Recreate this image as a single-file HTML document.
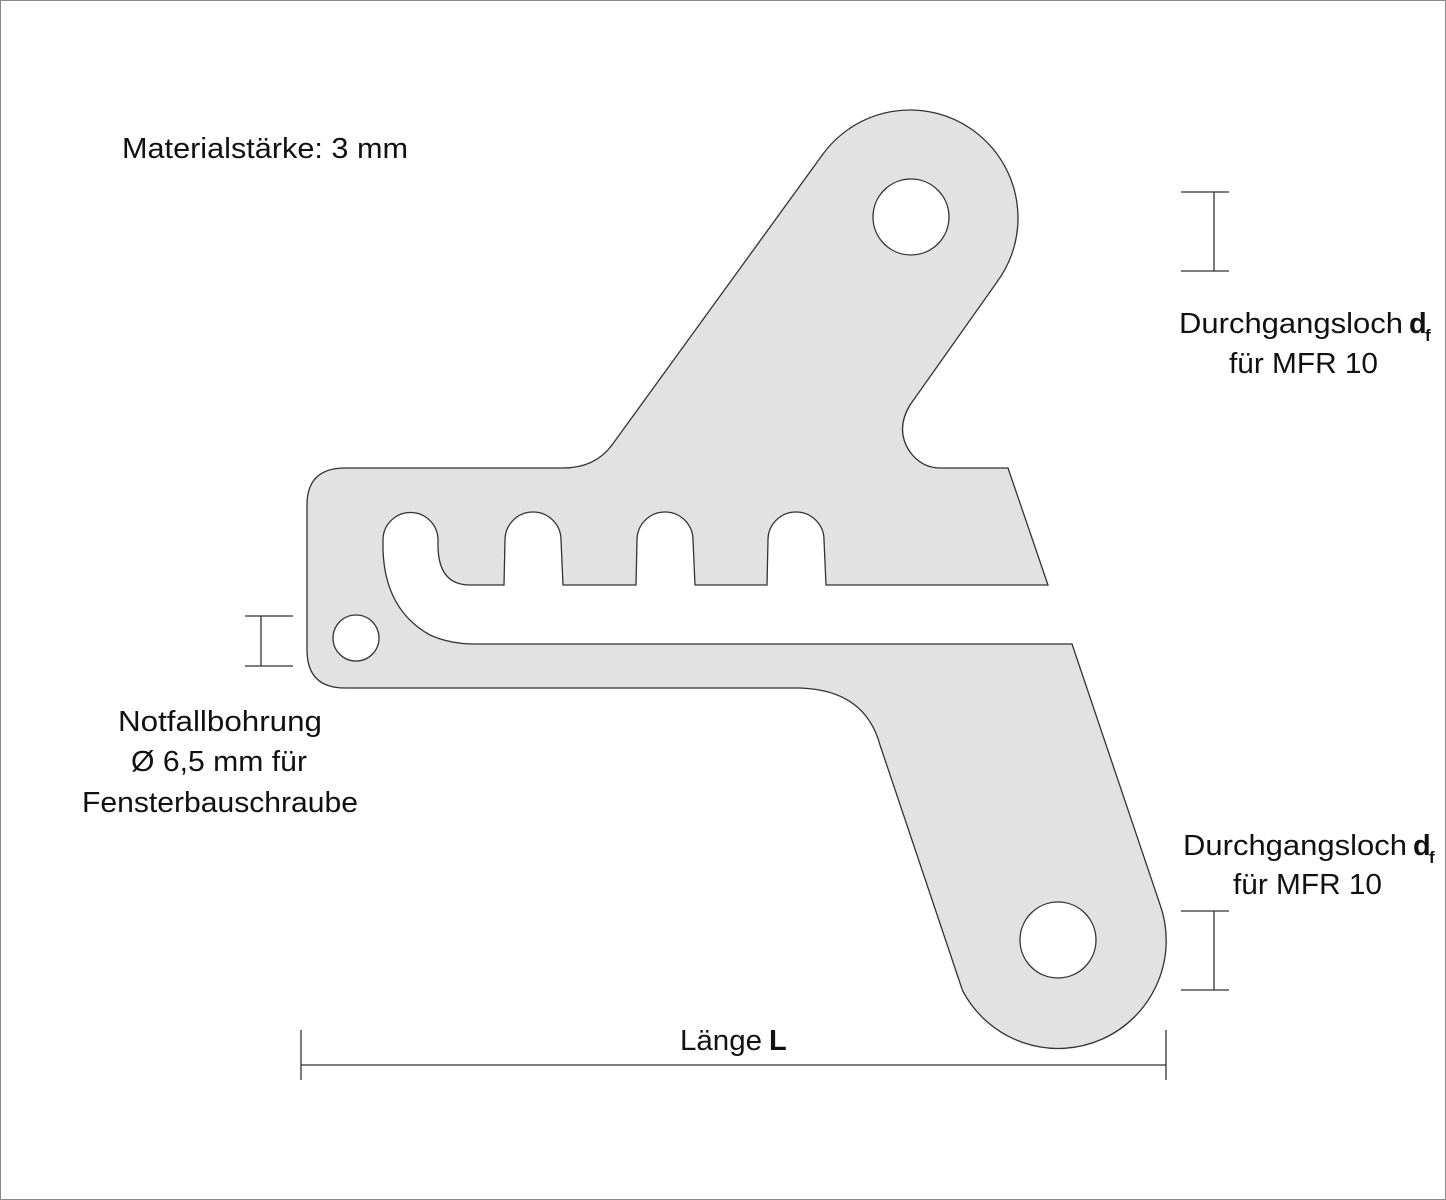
<!DOCTYPE html>
<html><head><meta charset="utf-8"><style>html,body{margin:0;padding:0;background:#fff}svg{display:block}</style></head>
<body>
<svg width="1446" height="1200" viewBox="0 0 1446 1200" xmlns="http://www.w3.org/2000/svg">
<rect x="0.5" y="0.5" width="1445" height="1199" fill="#fff" stroke="#888" stroke-width="1"/>
<path fill="#e2e2e2" stroke="#333" stroke-width="1.3" fill-rule="evenodd" d="M345,468 L563,468 Q595,468 612,445 L823,154 A108,108 0 1 1 997,282 L910,405 Q895,430 910,452 Q922,468 940,468 L1008,468 L1048,585 L826,585 L824,540 A28,28 0 0 0 768,540 L767,585 L695,585 L693,540 A28,28 0 0 0 637,540 L636,585 L563,585 L561,540 A28,28 0 0 0 505,540 L504,585 L470,585 Q438,585 438,545 L438,540 A27.5,27.5 0 0 0 383,540 L383,550 Q385,610 430,635 Q450,644 475,644 L1072,644 L1159.5,903 A108,108 0 0 1 962.6,990.7 L880,745 Q865,690 800,688 L345,688 Q307,688 307,650 L307,505 Q307,468 345,468 Z
M949,217 A38,38 0 1 0 873,217 A38,38 0 1 0 949,217 Z
M1096,940 A38,38 0 1 0 1020,940 A38,38 0 1 0 1096,940 Z
M379,638 A23,23 0 1 0 333,638 A23,23 0 1 0 379,638 Z"/>
<g stroke="#333" stroke-width="1.3" fill="none">
<line x1="1214" y1="192" x2="1214" y2="271"/><line x1="1181" y1="192" x2="1229" y2="192"/><line x1="1181" y1="271" x2="1229" y2="271"/>
<line x1="1214" y1="911" x2="1214" y2="990"/><line x1="1181" y1="911" x2="1229" y2="911"/><line x1="1181" y1="990" x2="1229" y2="990"/>
<line x1="261" y1="616" x2="261" y2="666"/><line x1="245" y1="616" x2="293" y2="616"/><line x1="245" y1="666" x2="293" y2="666"/>
<line x1="301" y1="1065" x2="1166" y2="1065"/><line x1="301" y1="1030" x2="301" y2="1080"/><line x1="1166" y1="1030" x2="1166" y2="1080"/>
</g>
<g font-family="Liberation Sans Narrow, Liberation Sans, sans-serif" font-size="29" fill="#111">
<text x="122" y="158" textLength="286" lengthAdjust="spacingAndGlyphs">Materialstärke: 3 mm</text>
<text x="1179" y="333" textLength="224" lengthAdjust="spacingAndGlyphs">Durchgangsloch</text>
<text x="1409" y="333" font-weight="bold">d</text><text x="1425" y="341" font-size="17" font-weight="bold">f</text>
<text x="1229" y="373" textLength="149" lengthAdjust="spacingAndGlyphs">für MFR 10</text>
<text x="1183" y="855" textLength="224" lengthAdjust="spacingAndGlyphs">Durchgangsloch</text>
<text x="1413" y="855" font-weight="bold">d</text><text x="1429" y="863" font-size="17" font-weight="bold">f</text>
<text x="1233" y="894" textLength="149" lengthAdjust="spacingAndGlyphs">für MFR 10</text>
<text x="118" y="731" textLength="204" lengthAdjust="spacingAndGlyphs">Notfallbohrung</text>
<text x="131" y="771" textLength="176" lengthAdjust="spacingAndGlyphs">Ø 6,5 mm für</text>
<text x="82" y="812" textLength="276" lengthAdjust="spacingAndGlyphs">Fensterbauschraube</text>
<text x="680" y="1050" textLength="82" lengthAdjust="spacingAndGlyphs">Länge</text>
<text x="769" y="1050" font-weight="bold">L</text>
</g>
</svg>
</body></html>
